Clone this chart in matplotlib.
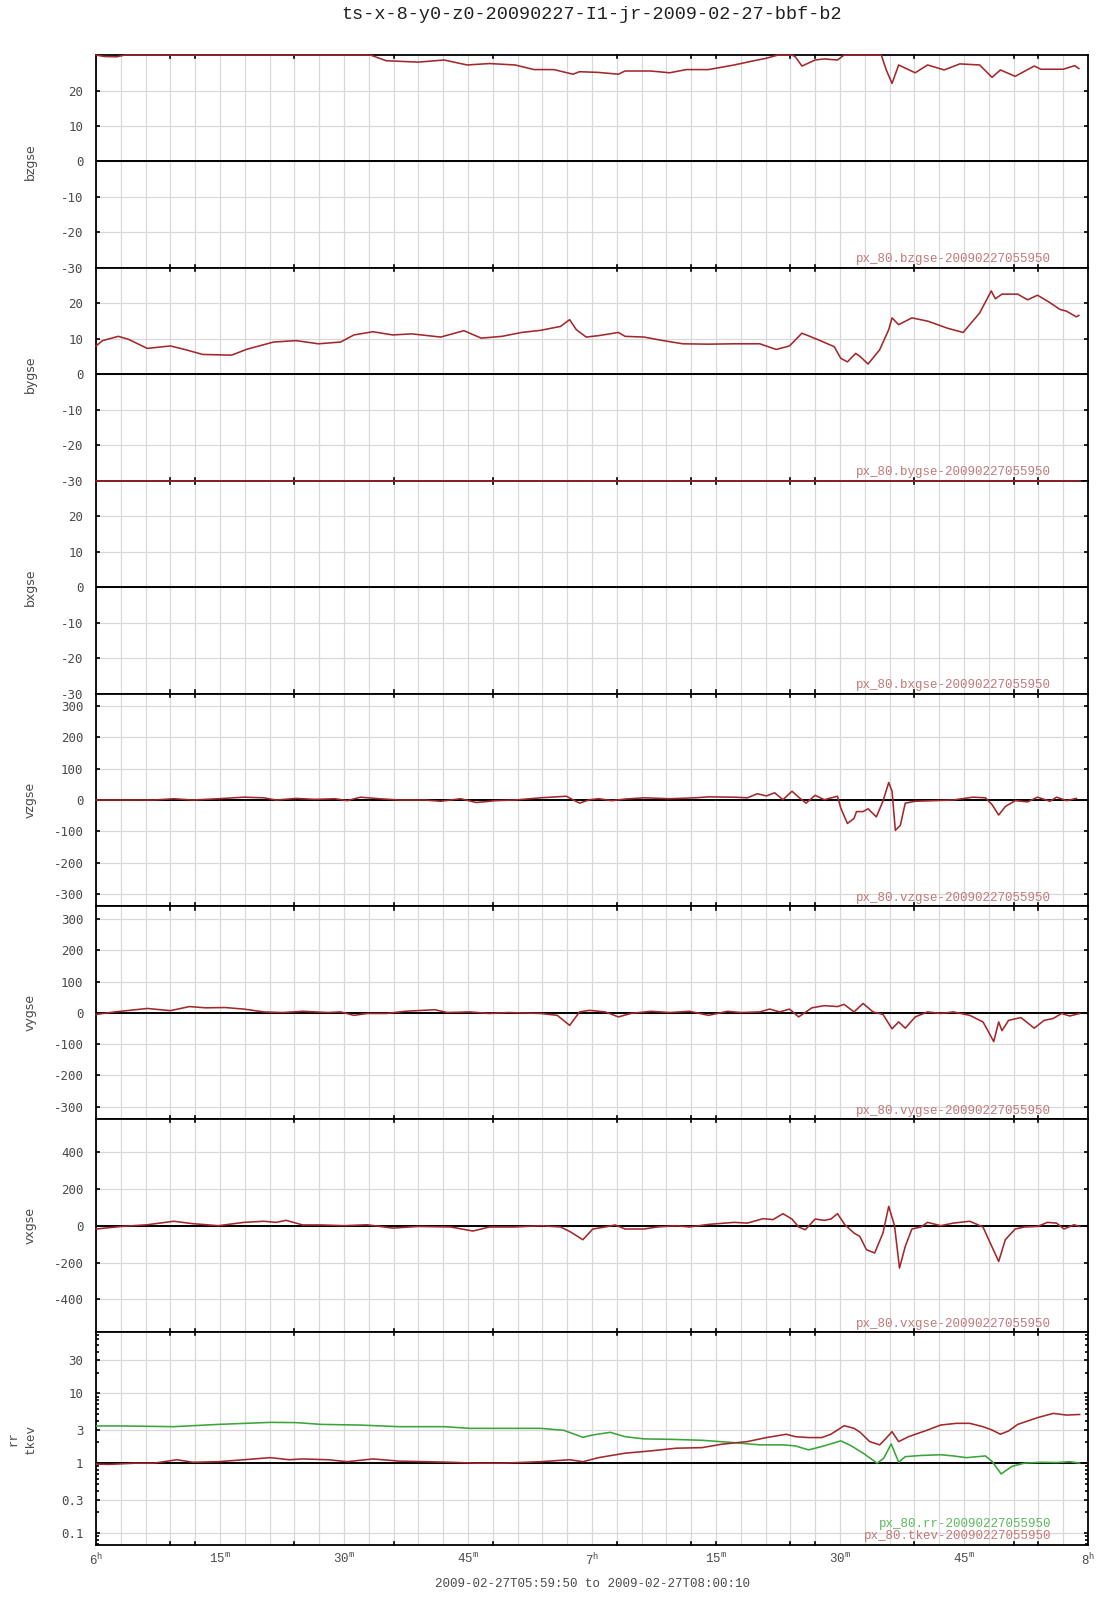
import matplotlib
matplotlib.use('Agg')
import matplotlib.pyplot as plt
import matplotlib.transforms as mtransforms
import numpy as np

plt.rcParams['font.family'] = ['Liberation Mono', 'DejaVu Sans Mono']
plt.rcParams['mathtext.fontset'] = 'custom'
plt.rcParams['mathtext.rm'] = 'Liberation Mono'
plt.rcParams['mathtext.it'] = 'Liberation Mono'
plt.rcParams['mathtext.default'] = 'rm'

# time axis in minutes after 06:00
bz_t = [0, 1, 2.5, 3.5, 10, 20, 30, 33.2, 35.1, 39.0, 42.1, 44.9, 47.6, 50.7, 53.0, 55.4, 57.7, 58.5,
        60.8, 63.2, 64.0, 67.1, 69.4, 71.4, 74.1, 77.2, 79.6, 81.1, 82.5, 84.2, 84.6, 85.4, 87.0, 88.1,
        89.7, 90.5, 93, 95.0, 95.6, 96.3, 97.1, 99.1, 100.6, 102.6, 104.5, 106.9, 108.4, 109.4, 111.2,
        113.5, 114.3, 117.0, 118.4, 118.9]
bzgse = [30.5, 29.6, 29.5, 30.5, 33, 34, 33, 30.5, 28.4, 28.0, 28.6, 27.2, 27.6, 27.2, 25.9, 25.9, 24.6,
         25.3, 25.1, 24.6, 25.5, 25.5, 25.0, 25.9, 25.9, 27.2, 28.4, 29.1, 31, 31, 29.5, 26.9, 28.6, 28.9,
         28.6, 31, 33, 31, 25.8, 22, 27.2, 25.0, 27.2, 25.8, 27.5, 27.2, 23.7, 25.8, 24.0, 26.9, 26.0,
         26.0, 27.0, 26.2]

by_t = [0, 0.8, 2.7, 3.9, 6.2, 9.0, 10.9, 12.9, 16.4, 18.3, 21.5, 24.2, 26.9, 29.6, 31.2, 33.5, 35.9,
        38.2, 41.7, 44.5, 46.6, 49.1, 51.5, 53.8, 56.2, 57.3, 58.1, 59.3, 60.8, 63.2, 64.0, 66.3, 68.6,
        71.0, 74.1, 77.2, 80.3, 82.3, 83.9, 85.4, 87.4, 89.3, 90.1, 90.9, 91.9, 92.4, 93.4, 94.8, 95.9,
        96.3, 97.1, 98.7, 100.6, 103.0, 104.9, 106.9, 108.3, 108.8, 109.6, 111.5, 112.7, 113.9, 115.4,
        116.6, 117.4, 118.6, 118.9]
bygse = [8.0, 9.5, 10.7, 9.9, 7.3, 8.0, 6.9, 5.6, 5.4, 7.1, 9.1, 9.5, 8.6, 9.1, 11.1, 12.0, 11.1, 11.4,
         10.5, 12.3, 10.2, 10.7, 11.8, 12.4, 13.5, 15.4, 12.6, 10.5, 10.9, 11.8, 10.7, 10.5, 9.5, 8.6,
         8.5, 8.6, 8.6, 7.0, 8.0, 11.6, 9.7, 7.8, 4.5, 3.5, 5.9, 5.1, 2.9, 6.9, 12.6, 15.9, 14.0, 15.9,
         15.0, 13.0, 11.8, 17.3, 23.5, 21.3, 22.6, 22.6, 21.0, 22.3, 20.2, 18.3, 17.8, 16.2, 16.6]

# bxgse stays above the axis range for the whole interval
bx_t = [0, 30, 60, 90, 119]
bxgse = [45, 44, 43, 41, 40]

vz_t = [0.0, 3.1, 7.0, 9.4, 11.7, 14.8, 17.9, 20.3, 21.8, 24.2, 26.5, 28.9, 30.4, 32.0, 34.3, 36.7,
        39.8, 41.7, 44.1, 46.0, 48.4, 50.7, 53.8, 56.9, 58.5, 59.7, 60.8, 62.4, 64.0, 66.3, 69.4, 72.5,
        74.1, 77.2, 78.8, 80.0, 81.1, 82.1, 83.1, 84.2, 85.0, 85.9, 87.0, 88.1, 89.7, 90.1, 90.9, 91.7,
        92.0, 92.8, 93.4, 94.4, 95.2, 95.9, 96.3, 96.7, 97.3, 97.9, 99.1, 101.4, 103.7, 106.1, 107.6,
        108.4, 109.2, 110.0, 111.2, 112.7, 113.9, 115.4, 116.2, 117.4, 118.6]
vzgse = [0, 0, 0, 4, 0, 4, 9, 7, 0, 5, 2, 4, -2, 9, 4, 0, 0, -4, 4, -8, -2, 0, 7, 12, -10, 1, 4, -2, 3,
         7, 4, 7, 10, 9, 7, 20, 13, 23, 1, 28, 9, -10, 15, 1, 12, -26, -75, -59, -37, -37, -28, -54, -4,
         56, 28, -97, -81, -10, -4, -2, 0, 9, 7, -15, -48, -21, -2, -6, 9, -4, 9, -2, 5]

vy_t = [0.0, 2.3, 6.2, 9.0, 11.3, 13.3, 15.6, 17.9, 20.3, 22.6, 25.0, 28.1, 29.6, 31.2, 32.8, 35.1,
        37.4, 41.0, 42.5, 45.2, 47.6, 49.9, 53.8, 55.8, 57.3, 58.5, 59.7, 61.6, 63.2, 64.7, 67.1, 69.4,
        71.8, 74.1, 76.4, 78.0, 80.3, 81.5, 82.7, 83.9, 85.0, 86.6, 88.1, 89.7, 90.5, 91.7, 92.8, 94.0,
        95.2, 96.3, 97.1, 97.9, 99.1, 100.6, 102.2, 103.7, 105.7, 107.3, 108.0, 108.6, 109.2, 109.6,
        110.4, 111.9, 113.5, 114.7, 115.8, 116.8, 117.8, 119.0]
vygse = [-5, 3, 14, 7, 20, 16, 17, 12, 3, 1, 5, 1, 3, -8, -2, -2, 5, 10, 1, 3, -2, 1, -2, -8, -40, 3, 8,
         3, -13, -2, 5, 1, 5, -8, 5, 1, 3, 12, 3, 12, -13, 16, 23, 20, 27, 3, 30, 3, -5, -51, -29, -49,
         -13, 3, -2, 3, -8, -29, -62, -92, -29, -57, -24, -15, -49, -24, -18, -2, -10, -2]

vx_t = [0.0, 3.1, 6.2, 9.4, 11.7, 14.8, 17.9, 20.3, 21.8, 23.0, 25.0, 27.3, 30.0, 32.8, 35.9, 39.0,
        42.9, 45.6, 47.6, 50.7, 53.8, 56.2, 57.3, 58.9, 60.1, 61.6, 62.8, 64.0, 66.3, 67.9, 70.2, 71.8,
        74.1, 77.2, 78.8, 80.7, 81.9, 83.1, 84.2, 85.0, 85.8, 87.0, 88.1, 88.9, 89.7, 90.6, 91.7, 92.4,
        93.2, 94.2, 95.2, 95.9, 96.6, 97.2, 97.9, 98.7, 99.8, 100.6, 102.2, 103.7, 105.7, 107.3, 108.0,
        109.2, 110.0, 111.2, 112.3, 113.9, 115.1, 116.2, 117.1, 118.3, 119.0]
vxgse = [-18, -4, 5, 24, 11, 0, 18, 24, 18, 29, 4, 4, 0, 5, -13, -4, -7, -29, -7, -7, 0, -7, -31, -76,
         -18, -7, 4, -18, -18, -7, 0, -7, 7, 18, 14, 38, 33, 65, 36, -7, -22, 36, 29, 36, 65, 5, -40, -58,
         -130, -148, -40, 105, 0, -230, -112, -18, -7, 18, 0, 14, 24, -7, -76, -194, -76, -18, -7, -4, 18,
         14, -18, 5, -4]

rr_t = [0.0, 3.1, 9.4, 14.8, 21.1, 24.2, 27.3, 32.0, 36.7, 42.1, 45.2, 49.1, 53.8, 56.6, 58.9, 60.1,
        62.2, 64.0, 66.3, 69.4, 73.3, 77.2, 80.3, 83.1, 84.6, 86.2, 88.1, 90.1, 91.3, 92.8, 94.5, 95.3,
        96.2, 97.1, 97.9, 99.8, 102.2, 103.7, 105.3, 107.6, 108.4, 109.5, 110.8, 112.3, 114.3, 116.2,
        117.8, 119.0]
rr = [3.42, 3.42, 3.34, 3.6, 3.85, 3.82, 3.6, 3.52, 3.34, 3.34, 3.16, 3.16, 3.16, 2.96, 2.35, 2.54, 2.77,
      2.40, 2.23, 2.2, 2.13, 1.97, 1.83, 1.83, 1.77, 1.55, 1.77, 2.09, 1.79, 1.39, 1.0, 1.18, 1.89, 1.03,
      1.24, 1.29, 1.32, 1.27, 1.2, 1.27, 1.06, 0.7, 0.9, 1.0, 1.03, 1.02, 1.05, 1.0]

tkev_t = [0.0, 1.6, 4.7, 7.0, 9.8, 11.7, 14.8, 17.9, 21.1, 23.4, 25.0, 28.1, 30.4, 33.5, 36.7, 39.8,
          42.9, 46.0, 49.1, 53.8, 57.3, 58.9, 60.8, 64.0, 67.1, 70.2, 73.3, 75.7, 78.8, 81.1, 83.5, 84.6,
          86.2, 87.8, 88.9, 89.7, 90.5, 91.7, 92.4, 93.6, 94.8, 95.3, 96.3, 97.1, 98.3, 100.6, 102.2,
          104.1, 105.7, 107.3, 108.4, 109.4, 110.4, 111.5, 113.9, 115.8, 117.4, 119.0]
tkev = [0.97, 0.96, 1.0, 1.0, 1.12, 1.03, 1.05, 1.12, 1.2, 1.12, 1.15, 1.12, 1.05, 1.15, 1.07, 1.05, 1.03,
        1.0, 1.0, 1.05, 1.12, 1.05, 1.2, 1.39, 1.5, 1.64, 1.67, 1.87, 2.04, 2.33, 2.6, 2.4, 2.33, 2.33, 2.6,
        2.99, 3.45, 3.16, 2.8, 2.04, 1.83, 2.1, 2.83, 2.04, 2.4, 2.99, 3.53, 3.73, 3.73, 3.34, 2.99, 2.6,
        2.9, 3.6, 4.5, 5.18, 4.9, 5.0]

tick_pos = [0, 15, 30, 45, 60, 75, 90, 105, 120]
tick_txt = [r'$6^{h}$', r'$15^{m}$', r'$30^{m}$', r'$45^{m}$', r'$7^{h}$',
            r'$15^{m}$', r'$30^{m}$', r'$45^{m}$', r'$8^{h}$']
inner_ticks = [9, 12, 24, 36, 48, 63, 72, 75, 84, 87, 99, 111, 114]

RED = '#a3282c'
GREEN = '#3aa53a'
LBL_RED = '#c27878'
LBL_GREEN = '#5cb85c'
GRID = '#d8d8d8'
TXT = '#4a4a4a'

panels = [
    ('bzgse', [(bz_t, bzgse, RED)], (-30, 30), [-30, -20, -10, 0, 10, 20], ['px_80.bzgse-20090227055950']),
    ('bygse', [(by_t, bygse, RED)], (-30, 30), [-30, -20, -10, 0, 10, 20], ['px_80.bygse-20090227055950']),
    ('bxgse', [(bx_t, bxgse, RED)], (-30, 30), [-30, -20, -10, 0, 10, 20], ['px_80.bxgse-20090227055950']),
    ('vzgse', [(vz_t, vzgse, RED)], (-340, 340), [-300, -200, -100, 0, 100, 200, 300], ['px_80.vzgse-20090227055950']),
    ('vygse', [(vy_t, vygse, RED)], (-340, 340), [-300, -200, -100, 0, 100, 200, 300], ['px_80.vygse-20090227055950']),
    ('vxgse', [(vx_t, vxgse, RED)], (-577, 577), [-400, -200, 0, 200, 400], ['px_80.vxgse-20090227055950']),
]

fig = plt.figure(figsize=(11.07, 16), dpi=100)
axes = fig.subplots(7, 1, sharex=True, gridspec_kw=dict(hspace=0))
fig.subplots_adjust(left=0.0867, right=0.9828, top=0.9656, bottom=0.0344)


def style_axis(ax):
    ax.set_xlim(0, 120)
    ax.set_xticks(tick_pos)
    ax.set_xticks(np.arange(0, 121, 3), minor=True)
    ax.grid(True, which='both', axis='x', color=GRID, lw=0.9)
    ax.grid(True, which='major', axis='y', color=GRID, lw=0.9)
    ax.tick_params(axis='x', which='both', length=0, labelbottom=False)
    ax.tick_params(axis='y', which='major', direction='in', length=3, width=1.2,
                   left=True, right=True, labelsize=9, labelcolor=TXT, pad=9)
    for sp in ax.spines.values():
        sp.set_linewidth(1.3)
        sp.set_color('black')
    tr = mtransforms.blended_transform_factory(ax.transData, ax.transAxes)
    for x in inner_ticks:
        ax.plot([x, x], [1, 0.985], color='black', lw=1.2, transform=tr, clip_on=False)
        ax.plot([x, x], [0, 0.015], color='black', lw=1.2, transform=tr, clip_on=False)


for ax, (name, series, ylim, yt, notes) in zip(axes[:6], panels):
    style_axis(ax)
    ax.set_ylim(*ylim)
    ax.set_yticks(yt)
    ax.set_yticklabels([str(v) for v in yt])
    for lab in ax.get_yticklabels():
        lab.set_family('DejaVu Sans Mono')
    ax.axhline(0, color='black', lw=1.4, zorder=3)
    for t, v, c in series:
        ax.plot(t, np.clip(v, ylim[0], ylim[1]), color=c, lw=1.15, zorder=4, clip_on=False)
    ax.text(0.963, 0.012, notes[0], transform=ax.transAxes, ha='right', va='bottom',
            color=LBL_RED, fontsize=9, family='Liberation Mono')
    pos = ax.get_position()
    fig.text(0.0276, (pos.y0 + pos.y1) / 2, name, rotation=90, ha='center', va='center',
             fontsize=9, color=TXT, family='DejaVu Sans')

# log panel with rr and tkev
ax = axes[6]
ax.set_yscale('log')
style_axis(ax)
lo, hi = 0.067, 76
ax.set_ylim(lo, hi)
ax.set_yticks([0.1, 0.3, 1, 3, 10, 30])
ax.set_yticklabels(['0.1', '0.3', '1', '3', '10', '30'])
for lab in ax.get_yticklabels():
    lab.set_family('DejaVu Sans Mono')
ax.tick_params(axis='y', which='minor', direction='in', length=2, width=1.2, left=True, right=True,
               labelleft=False)
ax.axhline(1, color='black', lw=1.4, zorder=3)
ax.plot(rr_t, np.clip(rr, lo, hi), color=GREEN, lw=1.15, zorder=4)
ax.plot(tkev_t, np.clip(tkev, lo, hi), color=RED, lw=1.15, zorder=4)
ax.text(0.963, 0.068, 'px_80.rr-20090227055950', transform=ax.transAxes, ha='right', va='bottom',
        color=LBL_GREEN, fontsize=9, family='Liberation Mono')
ax.text(0.963, 0.012, 'px_80.tkev-20090227055950', transform=ax.transAxes, ha='right', va='bottom',
        color=LBL_RED, fontsize=9, family='Liberation Mono')
pos = ax.get_position()
fig.text(0.0200, (pos.y0 + pos.y1) / 2, 'rr\ntkev', rotation=90, ha='center', va='center',
         fontsize=9, color=TXT, family='Liberation Mono', linespacing=1.6)

ax.tick_params(axis='x', which='major', labelbottom=True, labelsize=9, labelcolor=TXT, pad=5)
ax.set_xticklabels(tick_txt)

fig.text(0.5348, 1 - 14.5 / 1600, 'ts-x-8-y0-z0-20090227-I1-jr-2009-02-27-bbf-b2',
         ha='center', va='center', fontsize=13.3, color='#202020', family='Liberation Mono')
fig.text(0.5348, 1 - 1584 / 1600, '2009-02-27T05:59:50 to 2009-02-27T08:00:10',
         ha='center', va='center', fontsize=9, color=TXT, family='Liberation Mono')

fig.savefig('out.png', dpi=100, facecolor='white')
plt.close(fig)
